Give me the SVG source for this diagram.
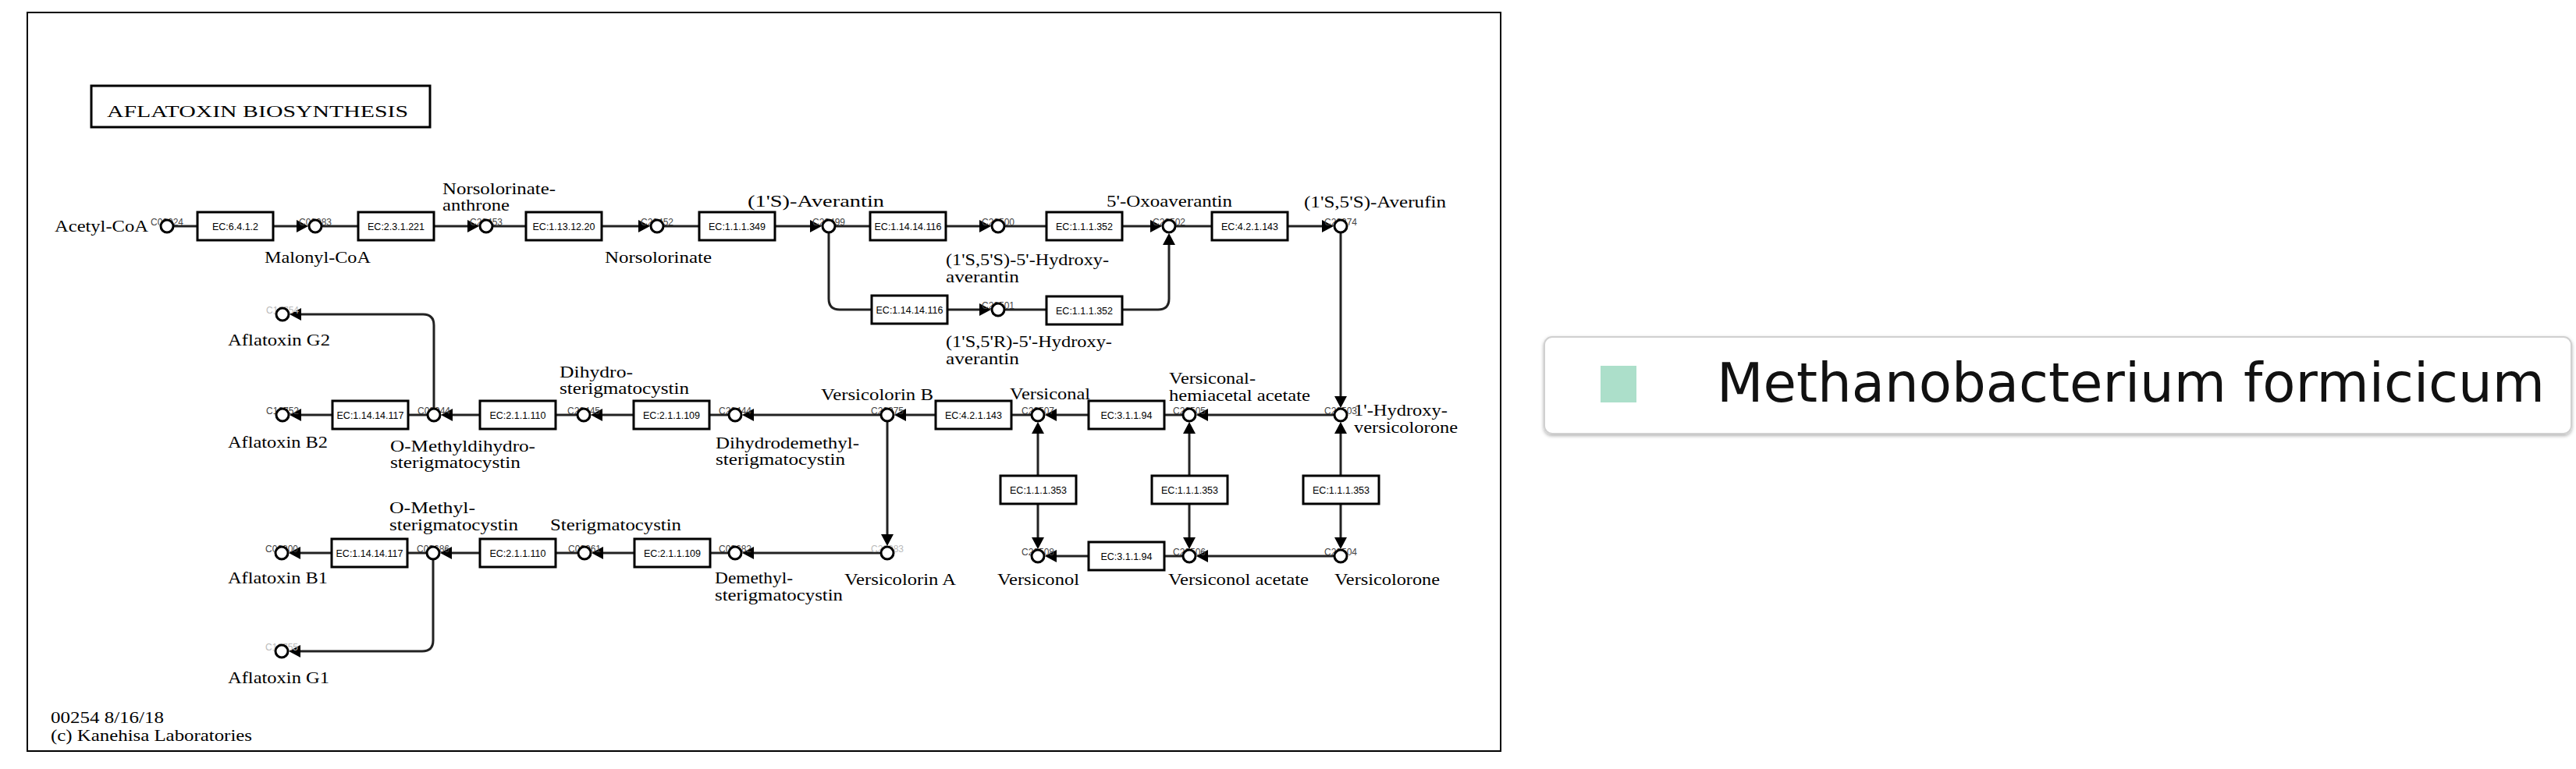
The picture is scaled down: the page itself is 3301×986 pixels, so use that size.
<svg xmlns="http://www.w3.org/2000/svg" width="3301" height="986" viewBox="0 0 3301 986">
<defs>
<marker id="ah" markerUnits="userSpaceOnUse" markerWidth="16" markerHeight="16" viewBox="0 0 16 16" refX="9" refY="8" orient="auto">
<path d="M0,0 L15,8 L0,16 z" fill="#000"/>
</marker>
<filter id="sh" x="-5%" y="-20%" width="110%" height="150%">
<feDropShadow dx="0" dy="2" stdDeviation="2" flood-color="#000" flood-opacity="0.3"/>
</filter>
<style>
.cn{fill:none;stroke:#222;stroke-width:3}
.ar{marker-end:url(#ah)}
.cp{fill:#fff;stroke:#000;stroke-width:3}
.cl{font-family:"Liberation Sans",Arial,sans-serif;font-size:12px;fill:#444;text-anchor:middle}
.fa{fill:#bbb}
.nm{font-family:"Liberation Serif","Times New Roman",serif;font-size:22px;fill:#000}
.ec rect{fill:#fff;stroke:#000;stroke-width:3}
.ec text{font-family:"Liberation Sans",Arial,sans-serif;font-size:12.5px;fill:#000;text-anchor:middle}
</style>
</defs>
<rect x="0" y="0" width="3301" height="986" fill="#fff"/>
<rect id="frame" x="35" y="16" width="1888" height="947" fill="none" stroke="#000" stroke-width="2"/>
<g id="title">
<rect x="117" y="110" width="434" height="53" fill="#fff" stroke="#000" stroke-width="3"/>
<text class="nm" x="137" y="150" font-size="26" textLength="386" lengthAdjust="spacingAndGlyphs">AFLATOXIN BIOSYNTHESIS</text>
</g>

<g id="connectors">
<path class="cn" d="M222,290 H253"/>
<path class="cn ar" d="M350,290 H389"/>
<path class="cn" d="M412,290 H459"/>
<path class="cn ar" d="M556,290 H608"/>
<path class="cn" d="M631,290 H674"/>
<path class="cn ar" d="M771,290 H827"/>
<path class="cn" d="M850,290 H896"/>
<path class="cn ar" d="M993,290 H1047"/>
<path class="cn" d="M1070,290 H1115"/>
<path class="cn ar" d="M1212,290 H1264"/>
<path class="cn" d="M1287,290 H1341"/>
<path class="cn ar" d="M1438,290 H1483"/>
<path class="cn" d="M1506,290 H1553"/>
<path class="cn ar" d="M1650,290 H1703"/>
<path class="cn ar" d="M1718,298 V517"/>
<path class="cn" d="M1062,298 V383 Q1062,397 1076,397 H1117"/>
<path class="cn ar" d="M1214,397 H1264"/>
<path class="cn" d="M1287,397 H1341"/>
<path class="cn ar" d="M1438,397 H1484 Q1498,397 1498,383 V305"/>
<path class="cn ar" d="M1710,532 H1539"/>
<path class="cn" d="M1516,532 H1492"/>
<path class="cn ar" d="M1395,532 H1345"/>
<path class="cn" d="M1322,532 H1296"/>
<path class="cn ar" d="M1199,532 H1152"/>
<path class="cn ar" d="M1129,532 H957"/>
<path class="cn" d="M934,532 H909"/>
<path class="cn ar" d="M812,532 H763"/>
<path class="cn" d="M740,532 H712"/>
<path class="cn ar" d="M615,532 H571"/>
<path class="cn" d="M548,532 H523"/>
<path class="cn ar" d="M426,532 H377"/>
<path class="cn ar" d="M556,524 V417 Q556,403 542,403 H377"/>
<path class="cn ar" d="M1137,540 V694"/>
<path class="cn ar" d="M1330,610 V547"/>
<path class="cn ar" d="M1330,646 V698"/>
<path class="cn ar" d="M1524,610 V547"/>
<path class="cn ar" d="M1524,646 V698"/>
<path class="cn ar" d="M1718,610 V547"/>
<path class="cn ar" d="M1718,646 V698"/>
<path class="cn ar" d="M1710,713 H1539"/>
<path class="cn" d="M1516,713 H1491"/>
<path class="cn ar" d="M1395,713 H1345"/>
<path class="cn ar" d="M1129,709 H957"/>
<path class="cn" d="M934,709 H910"/>
<path class="cn ar" d="M813,709 H764"/>
<path class="cn" d="M741,709 H712"/>
<path class="cn ar" d="M615,709 H570"/>
<path class="cn" d="M547,709 H522"/>
<path class="cn ar" d="M425,709 H376"/>
<path class="cn ar" d="M555,717 V821 Q555,835 541,835 H376"/>
</g>

<g id="enzymes">
<g id="e1" class="ec"><rect x="253" y="272" width="97" height="36"/><text x="301.5" y="295">EC:6.4.1.2</text></g>
<g id="e2" class="ec"><rect x="459" y="272" width="97" height="36"/><text x="507.5" y="295">EC:2.3.1.221</text></g>
<g id="e3" class="ec"><rect x="674" y="272" width="97" height="36"/><text x="722.5" y="295">EC:1.13.12.20</text></g>
<g id="e4" class="ec"><rect x="896" y="272" width="97" height="36"/><text x="944.5" y="295">EC:1.1.1.349</text></g>
<g id="e5" class="ec"><rect x="1115" y="272" width="97" height="36"/><text x="1163.5" y="295">EC:1.14.14.116</text></g>
<g id="e6" class="ec"><rect x="1341" y="272" width="97" height="36"/><text x="1389.5" y="295">EC:1.1.1.352</text></g>
<g id="e7" class="ec"><rect x="1553" y="272" width="97" height="36"/><text x="1601.5" y="295">EC:4.2.1.143</text></g>
<g id="e8" class="ec"><rect x="1117" y="379" width="97" height="36"/><text x="1165.5" y="402">EC:1.14.14.116</text></g>
<g id="e9" class="ec"><rect x="1341" y="380" width="97" height="36"/><text x="1389.5" y="403">EC:1.1.1.352</text></g>
<g id="e10" class="ec"><rect x="1395" y="514" width="97" height="36"/><text x="1443.5" y="537">EC:3.1.1.94</text></g>
<g id="e11" class="ec"><rect x="1199" y="514" width="97" height="36"/><text x="1247.5" y="537">EC:4.2.1.143</text></g>
<g id="e12" class="ec"><rect x="812" y="514" width="97" height="36"/><text x="860.5" y="537">EC:2.1.1.109</text></g>
<g id="e13" class="ec"><rect x="615" y="514" width="97" height="36"/><text x="663.5" y="537">EC:2.1.1.110</text></g>
<g id="e14" class="ec"><rect x="426" y="514" width="97" height="36"/><text x="474.5" y="537">EC:1.14.14.117</text></g>
<g id="e15" class="ec"><rect x="1282" y="610" width="97" height="36"/><text x="1330.5" y="633">EC:1.1.1.353</text></g>
<g id="e16" class="ec"><rect x="1476" y="610" width="97" height="36"/><text x="1524.5" y="633">EC:1.1.1.353</text></g>
<g id="e17" class="ec"><rect x="1670" y="610" width="97" height="36"/><text x="1718.5" y="633">EC:1.1.1.353</text></g>
<g id="e18" class="ec"><rect x="1395" y="695" width="97" height="36"/><text x="1443.5" y="718">EC:3.1.1.94</text></g>
<g id="e19" class="ec"><rect x="813" y="691" width="97" height="36"/><text x="861.5" y="714">EC:2.1.1.109</text></g>
<g id="e20" class="ec"><rect x="615" y="691" width="97" height="36"/><text x="663.5" y="714">EC:2.1.1.110</text></g>
<g id="e21" class="ec"><rect x="425" y="691" width="97" height="36"/><text x="473.5" y="714">EC:1.14.14.117</text></g>
</g>

<g id="compounds">
<g id="C00024"><text class="cl" x="214" y="289">C00024</text><circle class="cp" cx="214" cy="290" r="8"/><text class="nm" x="70" y="297" textLength="120" lengthAdjust="spacingAndGlyphs">Acetyl-CoA</text></g>
<g id="C00083"><text class="cl" x="404" y="289">C00083</text><circle class="cp" cx="404" cy="290" r="8"/><text class="nm" x="339" y="337" textLength="136" lengthAdjust="spacingAndGlyphs">Malonyl-CoA</text></g>
<g id="C20453"><text class="cl" x="623" y="289">C20453</text><circle class="cp" cx="623" cy="290" r="8"/><text class="nm" x="567" y="249" textLength="145" lengthAdjust="spacingAndGlyphs">Norsolorinate-</text><text class="nm" x="567" y="270" textLength="86" lengthAdjust="spacingAndGlyphs">anthrone</text></g>
<g id="C20452"><text class="cl" x="842" y="289">C20452</text><circle class="cp" cx="842" cy="290" r="8"/><text class="nm" x="775" y="337" textLength="137" lengthAdjust="spacingAndGlyphs">Norsolorinate</text></g>
<g id="C20499"><text class="cl" x="1062" y="289">C20499</text><circle class="cp" cx="1062" cy="290" r="8"/><text class="nm" x="958" y="265" textLength="175" lengthAdjust="spacingAndGlyphs">(1'S)-Averantin</text></g>
<g id="C20500"><text class="cl" x="1279" y="289">C20500</text><circle class="cp" cx="1279" cy="290" r="8"/><text class="nm" x="1212" y="340" textLength="209" lengthAdjust="spacingAndGlyphs">(1'S,5'S)-5'-Hydroxy-</text><text class="nm" x="1212" y="362" textLength="94" lengthAdjust="spacingAndGlyphs">averantin</text></g>
<g id="C20502"><text class="cl" x="1498" y="289">C20502</text><circle class="cp" cx="1498" cy="290" r="8"/><text class="nm" x="1418" y="265" textLength="161" lengthAdjust="spacingAndGlyphs">5'-Oxoaverantin</text></g>
<g id="C20374"><text class="cl" x="1718" y="289">C20374</text><circle class="cp" cx="1718" cy="290" r="8"/><text class="nm" x="1671" y="266" textLength="182" lengthAdjust="spacingAndGlyphs">(1'S,5'S)-Averufin</text></g>
<g id="C20501"><text class="cl" x="1279" y="396">C20501</text><circle class="cp" cx="1279" cy="397" r="8"/><text class="nm" x="1212" y="445" textLength="213" lengthAdjust="spacingAndGlyphs">(1'S,5'R)-5'-Hydroxy-</text><text class="nm" x="1212" y="467" textLength="94" lengthAdjust="spacingAndGlyphs">averantin</text></g>
<g id="C20503"><text class="cl" x="1718" y="531">C20503</text><circle class="cp" cx="1718" cy="532" r="8"/><text class="nm" x="1735" y="533" textLength="120" lengthAdjust="spacingAndGlyphs">1'-Hydroxy-</text><text class="nm" x="1735" y="555" textLength="133" lengthAdjust="spacingAndGlyphs">versicolorone</text></g>
<g id="C20505"><text class="cl" x="1524" y="531">C20505</text><circle class="cp" cx="1524" cy="532" r="8"/><text class="nm" x="1498" y="492" textLength="111" lengthAdjust="spacingAndGlyphs">Versiconal-</text><text class="nm" x="1498" y="514" textLength="181" lengthAdjust="spacingAndGlyphs">hemiacetal acetate</text></g>
<g id="C20507"><text class="cl" x="1330" y="531">C20507</text><circle class="cp" cx="1330" cy="532" r="8"/><text class="nm" x="1294" y="512" textLength="103" lengthAdjust="spacingAndGlyphs">Versiconal</text></g>
<g id="C20375"><text class="cl" x="1137" y="531">C20375</text><circle class="cp" cx="1137" cy="532" r="8"/><text class="nm" x="1052" y="513" textLength="144" lengthAdjust="spacingAndGlyphs">Versicolorin B</text></g>
<g id="C20444"><text class="cl" x="942" y="531">C20444</text><circle class="cp" cx="942" cy="532" r="8"/><text class="nm" x="917" y="575" textLength="184" lengthAdjust="spacingAndGlyphs">Dihydrodemethyl-</text><text class="nm" x="917" y="596" textLength="166" lengthAdjust="spacingAndGlyphs">sterigmatocystin</text></g>
<g id="C20445"><text class="cl" x="748" y="531">C20445</text><circle class="cp" cx="748" cy="532" r="8"/><text class="nm" x="717" y="484" textLength="94" lengthAdjust="spacingAndGlyphs">Dihydro-</text><text class="nm" x="717" y="505" textLength="166" lengthAdjust="spacingAndGlyphs">sterigmatocystin</text></g>
<g id="C03944"><text class="cl" x="556" y="531">C03944</text><circle class="cp" cx="556" cy="532" r="8"/><text class="nm" x="500" y="579" textLength="186" lengthAdjust="spacingAndGlyphs">O-Methyldihydro-</text><text class="nm" x="500" y="600" textLength="167" lengthAdjust="spacingAndGlyphs">sterigmatocystin</text></g>
<g id="C16752"><text class="cl" x="362" y="531">C16752</text><circle class="cp" cx="362" cy="532" r="8"/><text class="nm" x="292" y="574" textLength="128" lengthAdjust="spacingAndGlyphs">Aflatoxin B2</text></g>
<g id="C16754"><text class="cl fa" x="362" y="402">C16754</text><circle class="cp" cx="362" cy="403" r="8"/><text class="nm" x="292" y="443" textLength="131" lengthAdjust="spacingAndGlyphs">Aflatoxin G2</text></g>
<g id="C20504"><text class="cl" x="1718" y="712">C20504</text><circle class="cp" cx="1718" cy="713" r="8"/><text class="nm" x="1710" y="750" textLength="135" lengthAdjust="spacingAndGlyphs">Versicolorone</text></g>
<g id="C20506"><text class="cl" x="1524" y="712">C20506</text><circle class="cp" cx="1524" cy="713" r="8"/><text class="nm" x="1497" y="750" textLength="180" lengthAdjust="spacingAndGlyphs">Versiconol acetate</text></g>
<g id="C20508"><text class="cl" x="1330" y="712">C20508</text><circle class="cp" cx="1330" cy="713" r="8"/><text class="nm" x="1278" y="750" textLength="105" lengthAdjust="spacingAndGlyphs">Versiconol</text></g>
<g id="C20383"><text class="cl fa" x="1137" y="708">C20383</text><circle class="cp" cx="1137" cy="709" r="8"/><text class="nm" x="1082" y="750" textLength="143" lengthAdjust="spacingAndGlyphs">Versicolorin A</text></g>
<g id="C03682"><text class="cl" x="942" y="708">C03682</text><circle class="cp" cx="942" cy="709" r="8"/><text class="nm" x="916" y="748" textLength="100" lengthAdjust="spacingAndGlyphs">Demethyl-</text><text class="nm" x="916" y="770" textLength="164" lengthAdjust="spacingAndGlyphs">sterigmatocystin</text></g>
<g id="C00961"><text class="cl" x="749" y="708">C00961</text><circle class="cp" cx="749" cy="709" r="8"/><text class="nm" x="705" y="680" textLength="168" lengthAdjust="spacingAndGlyphs">Sterigmatocystin</text></g>
<g id="C03686"><text class="cl" x="555" y="708">C03686</text><circle class="cp" cx="555" cy="709" r="8"/><text class="nm" x="499" y="658" textLength="110" lengthAdjust="spacingAndGlyphs">O-Methyl-</text><text class="nm" x="499" y="680" textLength="165" lengthAdjust="spacingAndGlyphs">sterigmatocystin</text></g>
<g id="C06800"><text class="cl" x="361" y="708">C06800</text><circle class="cp" cx="361" cy="709" r="8"/><text class="nm" x="292" y="748" textLength="128" lengthAdjust="spacingAndGlyphs">Aflatoxin B1</text></g>
<g id="C16755"><text class="cl fa" x="361" y="834">C16755</text><circle class="cp" cx="361" cy="835" r="8"/><text class="nm" x="292" y="876" textLength="130" lengthAdjust="spacingAndGlyphs">Aflatoxin G1</text></g>
</g>

<g id="footer">
<text class="nm" x="65" y="927" textLength="145" lengthAdjust="spacingAndGlyphs">00254 8/16/18</text>
<text class="nm" x="65" y="950" textLength="258" lengthAdjust="spacingAndGlyphs">(c) Kanehisa Laboratories</text>
</g>

<g id="legend">
<rect x="1979" y="432" width="1316" height="124" rx="10" ry="10" fill="#fff" stroke="#d0d0d0" stroke-width="2" filter="url(#sh)"/>
<rect x="2051" y="469" width="46" height="47" fill="#acdfca"/>
<text x="2200" y="515" font-family="'DejaVu Sans',Verdana,sans-serif" font-size="69" fill="#111">Methanobacterium formicicum</text>
</g>
</svg>
